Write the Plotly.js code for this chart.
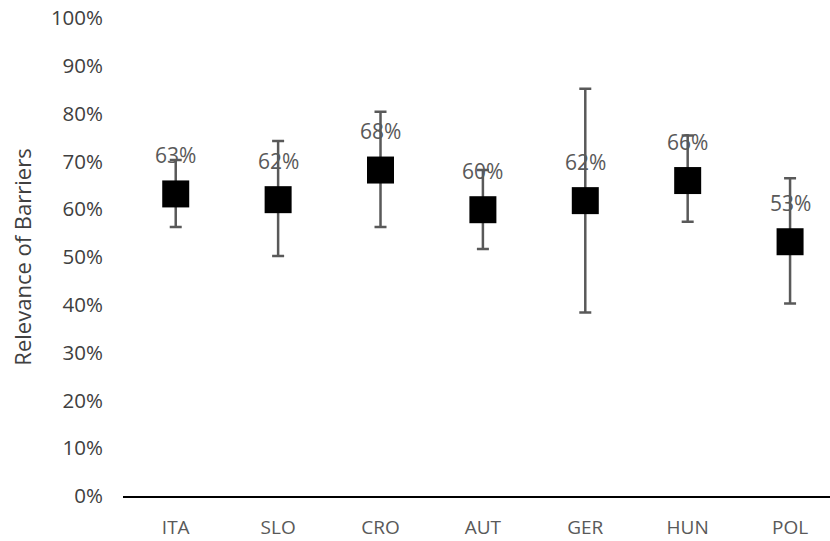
<!DOCTYPE html>
<html>
<head>
<meta charset="utf-8">
<script src="https://cdn.plot.ly/plotly-3.0.1.min.js"></script>
<style>
  html, body { margin: 0; padding: 0; background: #ffffff; }
  #chart { width: 830px; height: 541px; }
</style>
</head>
<body>
<div id="chart"></div>
<script>
// Countries on the x axis
const countries = ['ITA', 'SLO', 'CRO', 'AUT', 'GER', 'HUN', 'POL'];
// Mean relevance of barriers per country (share)
const relevance = [0.632, 0.620, 0.682, 0.599, 0.618, 0.660, 0.532];
// Upper and lower ends of the spread for each country
const upperBound = [0.703, 0.743, 0.804, 0.682, 0.852, 0.754, 0.665];
const lowerBound = [0.563, 0.502, 0.563, 0.517, 0.384, 0.574, 0.403];

const errPlus = relevance.map((v, i) => upperBound[i] - v);
const errMinus = relevance.map((v, i) => v - lowerBound[i]);

const FONT = 'Open Sans, Noto Sans, sans-serif';

const trace = {
  type: 'scatter',
  mode: 'markers',
  x: countries,
  y: relevance,
  marker: { symbol: 'square', size: 27, color: '#000000', line: { width: 0 } },
  error_y: {
    type: 'data',
    symmetric: false,
    array: errPlus,
    arrayminus: errMinus,
    color: '#595959',
    thickness: 2.5,
    width: 6
  },
  hoverinfo: 'skip',
  showlegend: false
};

// Percentage labels placed above each marker
const valueLabels = countries.map((c, i) => ({
  x: c,
  y: relevance[i],
  xref: 'x',
  yref: 'y',
  text: Math.round(relevance[i] * 100) + '%',
  showarrow: false,
  yshift: 39,
  yanchor: 'middle',
  font: { family: FONT, size: 21, color: '#595959' }
}));

const layout = {
  width: 830,
  height: 541,
  margin: { l: 123, r: 0, t: 18, b: 45 },
  paper_bgcolor: '#ffffff',
  plot_bgcolor: '#ffffff',
  font: { family: FONT },
  xaxis: {
    type: 'category',
    range: [-0.515, 6.39],
    showline: true,
    linecolor: '#000000',
    linewidth: 2,
    showgrid: false,
    zeroline: false,
    ticks: '',
    ticklabelstandoff: 13,
    tickfont: { family: FONT, size: 19, color: '#595959' },
    fixedrange: true
  },
  yaxis: {
    range: [0, 1.0001],
    tickvals: [0, 0.1, 0.2, 0.3, 0.4, 0.5, 0.6, 0.7, 0.8, 0.9, 1.0],
    tickformat: '.0%',
    showline: false,
    showgrid: false,
    zeroline: false,
    ticks: '',
    ticklabelstandoff: 19,
    tickfont: { family: FONT, size: 20.5, color: '#404040' },
    title: {
      text: 'Relevance of Barriers',
      font: { family: FONT, size: 22, color: '#404040' },
      standoff: 13
    },
    fixedrange: true
  },
  annotations: valueLabels
};

Plotly.newPlot('chart', [trace], layout, { displayModeBar: false, staticPlot: true });
</script>
</body>
</html>
